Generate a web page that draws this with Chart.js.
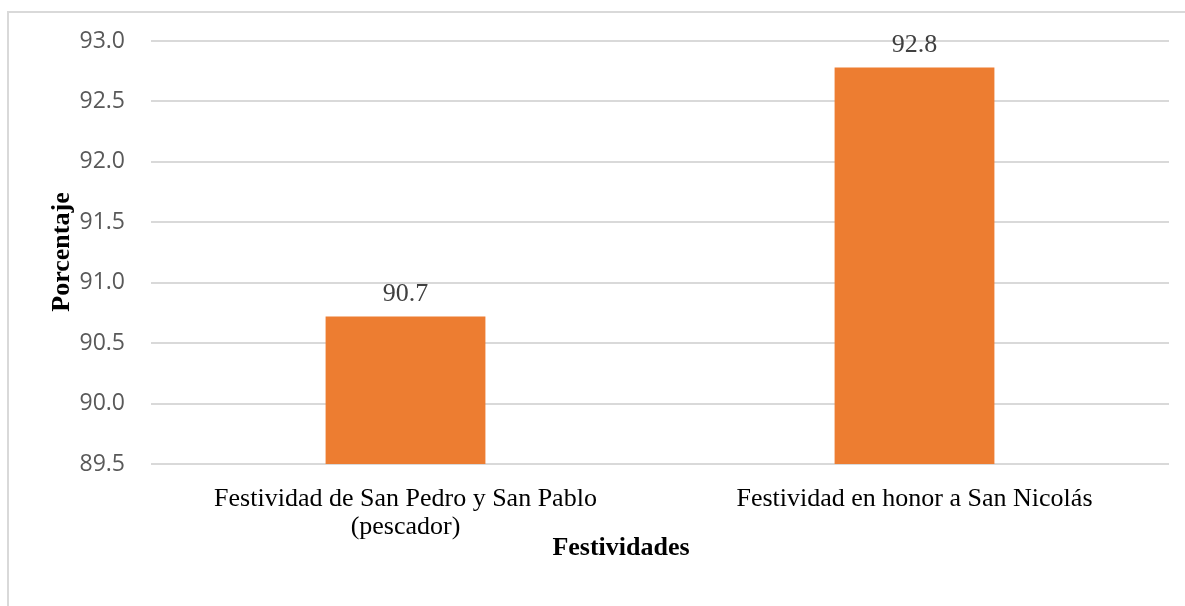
<!DOCTYPE html>
<html>
<head>
<meta charset="utf-8">
<script src="https://cdn.jsdelivr.net/npm/chart.js@4.4.0/dist/chart.umd.min.js"></script>
<style>
  html, body { margin: 0; padding: 0; background: #fff; overflow: hidden; }
  #frame { position: absolute; left: 7px; top: 11px; width: 1200px; height: 620px; border: 2px solid #d9d9d9; box-sizing: border-box; }
  #wrap { position: absolute; left: 0; top: 0; width: 1185px; height: 606px; }
</style>
</head>
<body>
<div id="frame"></div>
<div id="wrap"><canvas id="chart"></canvas></div>
<script>
const categories = [
  ['Festividad de San Pedro y San Pablo', '(pescador)'],
  'Festividad en honor a San Nicolás'
];
const values = [90.72, 92.78];
const valueLabels = ['90.7', '92.8'];
const yMin = 89.5;
const yMax = 93.0;
const yStep = 0.5;

const serif = '"Liberation Serif", "Times New Roman", serif';
const sans = '"Open Sans", "Noto Sans", sans-serif';

// etiquetas encima de las barras y títulos de los ejes
const labelsPlugin = {
  id: 'labelsPlugin',
  afterDatasetsDraw(chart) {
    const ctx = chart.ctx;
    const meta = chart.getDatasetMeta(0);
    ctx.save();
    ctx.fillStyle = '#404040';
    ctx.font = '26px ' + serif;
    ctx.textAlign = 'center';
    ctx.textBaseline = 'alphabetic';
    meta.data.forEach((bar, i) => {
      ctx.fillText(valueLabels[i], bar.x, bar.y - 16);
    });

    ctx.fillStyle = '#000';
    ctx.font = 'bold 26px ' + serif;
    ctx.fillText('Festividades', 621, 555);

    ctx.translate(69, 252);
    ctx.rotate(-Math.PI / 2);
    ctx.fillText('Porcentaje', 0, 0);
    ctx.restore();
  }
};

const data = {
  labels: categories,
  datasets: [{
    data: values,
    backgroundColor: '#ED7D31',
    borderWidth: 0,
    barPercentage: 0.314,
    categoryPercentage: 1
  }]
};

const config = {
  type: 'bar',
  data: data,
  options: {
    responsive: false,
    animation: false,
    layout: { padding: { top: 41, right: 16, left: 0, bottom: 0 } },
    plugins: {
      legend: { display: false },
      tooltip: { enabled: false }
    },
    scales: {
      x: {
        grid: { display: false, drawTicks: false },
        border: { display: false },
        ticks: {
          color: '#000',
          font: { family: serif, size: 26, lineHeight: 1.05 },
          padding: 22,
          maxRotation: 0
        },
        afterFit(scale) { scale.height = 142; }
      },
      y: {
        min: yMin,
        max: yMax,
        grid: { color: '#d9d9d9', lineWidth: 2, drawTicks: false },
        border: { display: false },
        ticks: {
          stepSize: yStep,
          color: '#595959',
          font: { family: sans, size: 23 },
          padding: 26,
          callback: v => v.toFixed(1)
        },
        afterFit(scale) { scale.width = 151; }
      }
    }
  },
  plugins: [labelsPlugin]
};

const canvas = document.getElementById('chart');
canvas.width = 1185;
canvas.height = 606;
new Chart(canvas.getContext('2d'), config);
</script>
</body>
</html>
